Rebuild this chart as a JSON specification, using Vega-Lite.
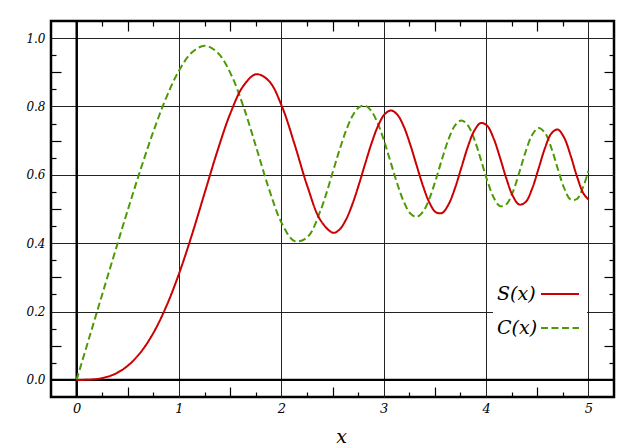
{
  "$schema": "https://vega.github.io/schema/vega-lite/v6.json",
  "width": 563,
  "height": 376,
  "autosize": {"type": "none"},
  "padding": {"left": 51, "top": 21, "right": 26, "bottom": 51},
  "background": "white",
  "config": {
    "view": {"stroke": "#000", "strokeWidth": 2.5},
    "axis": {
      "domain": false,
      "labelFont": "DejaVu Serif",
      "labelFontStyle": "italic",
      "labelColor": "#000",
      "labelFlush": false,
      "labelOverlap": false,
      "tickColor": "#000",
      "tickWidth": 1.2,
      "gridColor": "#222",
      "gridWidth": 1,
      "gridOpacity": 1,
      "titleFont": "DejaVu Serif",
      "titleFontStyle": "italic",
      "titleFontWeight": "normal",
      "titleColor": "#000"
    },
    "legend": {
      "orient": "none",
      "legendX": 442,
      "legendY": 249,
      "symbolType": "stroke",
      "symbolSize": 1444,
      "symbolStrokeWidth": 2,
      "symbolOffset": 43,
      "labelFont": "DejaVu Serif",
      "labelFontStyle": "italic",
      "labelFontSize": 19,
      "labelColor": "#000",
      "labelAlign": "left",
      "labelOffset": -83,
      "fillColor": "white",
      "padding": 4,
      "rowPadding": 4
    }
  },
  "datasets": {
    "fresnel": [
      {"x": 0, "C": 0, "S": 0},
      {"x": 0.1253, "C": 0.1253, "S": 0.0007},
      {"x": 0.2507, "C": 0.2506, "S": 0.0053},
      {"x": 0.3760, "C": 0.3752, "S": 0.0177},
      {"x": 0.5013, "C": 0.4982, "S": 0.0418},
      {"x": 0.6267, "C": 0.6171, "S": 0.0811},
      {"x": 0.7520, "C": 0.7283, "S": 0.1385},
      {"x": 0.8773, "C": 0.8268, "S": 0.2157},
      {"x": 1.0027, "C": 0.9060, "S": 0.3125},
      {"x": 1.1280, "C": 0.9586, "S": 0.4258},
      {"x": 1.2533, "C": 0.9774, "S": 0.5493},
      {"x": 1.3786, "C": 0.9573, "S": 0.6724},
      {"x": 1.5040, "C": 0.8967, "S": 0.7813},
      {"x": 1.6293, "C": 0.8003, "S": 0.8602},
      {"x": 1.7546, "C": 0.6807, "S": 0.8943},
      {"x": 1.8800, "C": 0.5581, "S": 0.8742},
      {"x": 2.0053, "C": 0.4580, "S": 0.8007},
      {"x": 2.1306, "C": 0.4059, "S": 0.6883},
      {"x": 2.2560, "C": 0.4181, "S": 0.5652},
      {"x": 2.3813, "C": 0.4944, "S": 0.4679},
      {"x": 2.5066, "C": 0.6119, "S": 0.4304},
      {"x": 2.5693, "C": 0.6736, "S": 0.4402},
      {"x": 2.6320, "C": 0.7289, "S": 0.4691},
      {"x": 2.6946, "C": 0.7719, "S": 0.5143},
      {"x": 2.7573, "C": 0.7975, "S": 0.5711},
      {"x": 2.8200, "C": 0.8023, "S": 0.6333},
      {"x": 2.8826, "C": 0.7853, "S": 0.6933},
      {"x": 2.9453, "C": 0.7482, "S": 0.7434},
      {"x": 3.0080, "C": 0.6955, "S": 0.7767},
      {"x": 3.0706, "C": 0.6343, "S": 0.7883},
      {"x": 3.1333, "C": 0.5733, "S": 0.7760},
      {"x": 3.1960, "C": 0.5216, "S": 0.7414},
      {"x": 3.2586, "C": 0.4875, "S": 0.6893},
      {"x": 3.3213, "C": 0.4768, "S": 0.6280},
      {"x": 3.3839, "C": 0.4919, "S": 0.5676},
      {"x": 3.4466, "C": 0.5305, "S": 0.5189},
      {"x": 3.5093, "C": 0.5859, "S": 0.4907},
      {"x": 3.5719, "C": 0.6480, "S": 0.4888},
      {"x": 3.6346, "C": 0.7048, "S": 0.5140},
      {"x": 3.6973, "C": 0.7447, "S": 0.5616},
      {"x": 3.7599, "C": 0.7592, "S": 0.6220},
      {"x": 3.8226, "C": 0.7446, "S": 0.6824},
      {"x": 3.8853, "C": 0.7039, "S": 0.7292},
      {"x": 3.9479, "C": 0.6460, "S": 0.7515},
      {"x": 4.0106, "C": 0.5844, "S": 0.7437},
      {"x": 4.0733, "C": 0.5343, "S": 0.7071},
      {"x": 4.1359, "C": 0.5085, "S": 0.6508},
      {"x": 4.1986, "C": 0.5139, "S": 0.5891},
      {"x": 4.2613, "C": 0.5496, "S": 0.5385},
      {"x": 4.3239, "C": 0.6060, "S": 0.5131},
      {"x": 4.3866, "C": 0.6675, "S": 0.5204},
      {"x": 4.4493, "C": 0.7160, "S": 0.5588},
      {"x": 4.5119, "C": 0.7369, "S": 0.6170},
      {"x": 4.5746, "C": 0.7233, "S": 0.6773},
      {"x": 4.6373, "C": 0.6792, "S": 0.7206},
      {"x": 4.6999, "C": 0.6186, "S": 0.7326},
      {"x": 4.7626, "C": 0.5616, "S": 0.7089},
      {"x": 4.8253, "C": 0.5278, "S": 0.6573},
      {"x": 4.8879, "C": 0.5293, "S": 0.5956},
      {"x": 4.9506, "C": 0.5660, "S": 0.5460},
      {"x": 5.0, "C": 0.6115, "S": 0.5279}
    ],
    "zero": [{"v": 0}]
  },
  "resolve": {"axis": {"x": "independent", "y": "independent"}},
  "layer": [
    {
      "data": {"name": "zero"},
      "mark": {"type": "rule", "color": "#000", "strokeWidth": 2.2},
      "encoding": {
        "x": {
          "field": "v", "type": "quantitative",
          "scale": {"domain": [-0.25, 5.25], "nice": false, "zero": false},
          "axis": {
            "orient": "top",
            "values": [0.25, 0.5, 0.75, 1.25, 1.5, 1.75, 2.25, 2.5, 2.75, 3.25, 3.5, 3.75, 4.25, 4.5, 4.75],
            "labels": false, "grid": false, "title": null,
            "tickSize": {"condition": {"test": "abs(datum.value*2 - round(datum.value*2)) < 0.01", "value": -10}, "value": -5}
          }
        }
      }
    },
    {
      "data": {"name": "zero"},
      "mark": {"type": "rule", "color": "#000", "strokeWidth": 2.2},
      "encoding": {
        "y": {
          "field": "v", "type": "quantitative",
          "scale": {"domain": [-0.05, 1.05], "nice": false, "zero": false},
          "axis": {
            "orient": "right",
            "values": [0.05, 0.1, 0.15, 0.25, 0.3, 0.35, 0.45, 0.5, 0.55, 0.65, 0.7, 0.75, 0.85, 0.9, 0.95],
            "labels": false, "grid": false, "title": null,
            "tickSize": {"condition": {"test": "abs(datum.value*10 - round(datum.value*10)) < 0.01", "value": -10}, "value": -5}
          }
        }
      }
    },
    {
      "data": {"name": "fresnel"},
      "mark": {"type": "line", "strokeWidth": 2, "interpolate": "catmull-rom"},
      "encoding": {
        "x": {
          "field": "x", "type": "quantitative",
          "scale": {"domain": [-0.25, 5.25], "nice": false, "zero": false},
          "axis": {
            "orient": "bottom",
            "values": [0, 1, 2, 3, 4, 5],
            "format": "d",
            "ticks": false,
            "grid": true,
            "labelPadding": 5,
            "labelFontSize": 13,
            "title": "x",
            "titleFontSize": 19,
            "titleX": 290,
            "titleY": 45,
            "titleAlign": "center",
            "titleBaseline": "alphabetic"
          }
        },
        "y": {
          "field": "C", "type": "quantitative",
          "scale": {"domain": [-0.05, 1.05], "nice": false, "zero": false},
          "axis": {
            "orient": "left",
            "values": [0, 0.2, 0.4, 0.6, 0.8, 1.0],
            "format": ".1f",
            "ticks": false,
            "grid": true,
            "labelPadding": 6,
            "labelFontSize": 12,
            "title": null
          }
        },
        "color": {
          "datum": "C(x)", "type": "nominal",
          "scale": {"domain": ["S(x)", "C(x)"], "range": ["#cc0000", "#4e9a06"]},
          "legend": {"title": null}
        },
        "strokeDash": {
          "datum": "C(x)", "type": "nominal",
          "scale": {"domain": ["S(x)", "C(x)"], "range": [[1, 0], [7, 3.5]]},
          "legend": {"title": null}
        }
      }
    },
    {
      "data": {"name": "fresnel"},
      "mark": {"type": "line", "strokeWidth": 2, "interpolate": "catmull-rom"},
      "encoding": {
        "x": {
          "field": "x", "type": "quantitative",
          "scale": {"domain": [-0.25, 5.25], "nice": false, "zero": false},
          "axis": {
            "orient": "bottom",
            "values": [0.25, 0.5, 0.75, 1.25, 1.5, 1.75, 2.25, 2.5, 2.75, 3.25, 3.5, 3.75, 4.25, 4.5, 4.75],
            "labels": false, "grid": false, "title": null,
            "tickSize": {"condition": {"test": "abs(datum.value*2 - round(datum.value*2)) < 0.01", "value": -10}, "value": -5}
          }
        },
        "y": {
          "field": "S", "type": "quantitative",
          "scale": {"domain": [-0.05, 1.05], "nice": false, "zero": false},
          "axis": {
            "orient": "left",
            "values": [0.05, 0.1, 0.15, 0.25, 0.3, 0.35, 0.45, 0.5, 0.55, 0.65, 0.7, 0.75, 0.85, 0.9, 0.95],
            "labels": false, "grid": false, "title": null,
            "tickSize": {"condition": {"test": "abs(datum.value*10 - round(datum.value*10)) < 0.01", "value": -10}, "value": -5}
          }
        },
        "color": {
          "datum": "S(x)", "type": "nominal",
          "scale": {"domain": ["S(x)", "C(x)"], "range": ["#cc0000", "#4e9a06"]},
          "legend": {"title": null}
        },
        "strokeDash": {
          "datum": "S(x)", "type": "nominal",
          "scale": {"domain": ["S(x)", "C(x)"], "range": [[1, 0], [7, 3.5]]},
          "legend": {"title": null}
        }
      }
    }
  ]
}
